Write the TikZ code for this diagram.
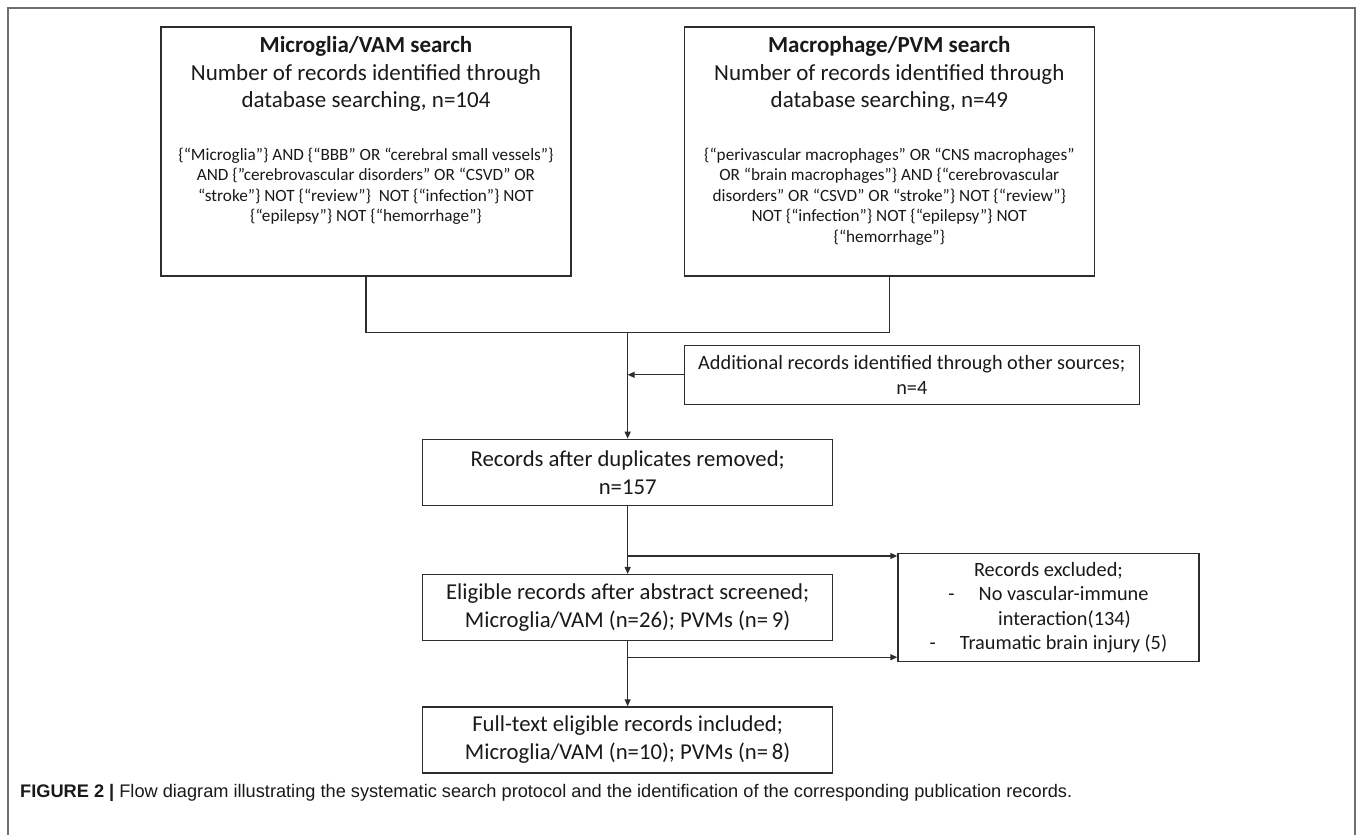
\documentclass[tikz,border=0pt]{standalone}
\usepackage{fontspec}
\setmainfont{Carlito}
\newfontfamily\captionfont{Liberation Sans}
\usepackage{tikz}
\usetikzlibrary{arrows, arrows.meta, positioning, calc}
\definecolor{boxline}{RGB}{45,45,45}
\definecolor{frameline}{RGB}{110,110,110}
\definecolor{inktext}{RGB}{25,25,25}
\tikzstyle{record} = [rectangle, draw=boxline, line width=1.3pt, minimum width=410pt, minimum height=66pt, inner sep=0pt, text=inktext, align=center, font=\fontsize{22.7}{28}\selectfont]
\tikzstyle{search} = [record, minimum height=249pt]
\tikzstyle{arrow} = [line width=1.2pt, draw=boxline, -{Triangle[length=7pt,width=6pt]}]
\tikzstyle{link} = [line width=1.2pt, draw=boxline]

\begin{document}
\begin{tikzpicture}[x=1pt, y=-1pt]
    \useasboundingbox (0,0) rectangle (1357,835);
    % Figure frame
    \draw [frameline, line width=1.5pt] (8,835) -- (8,8) -- (1355,8) -- (1355,835);

    % Search boxes
    \node (micro) [search] at (366,151.5) {};
    \node (microtitle) [below=10pt of micro.north, anchor=north, inner sep=0pt, align=center, text=inktext, font=\fontsize{23}{27.5}\selectfont] {\textbf{Microglia/VAM search}\\Number of records identified through\\database searching, n=104};
    \node (microquery) [below=36pt of microtitle, inner sep=0pt, align=center, text=inktext, font=\fontsize{17.2}{20.5}\selectfont] {\{“Microglia”\} AND \{“BBB” OR “cerebral small vessels”\}\\AND \{”cerebrovascular disorders” OR “CSVD” OR\\“stroke”\} NOT \{“review”\}\ \ NOT \{“infection”\} NOT\\\{“epilepsy”\} NOT \{“hemorrhage”\}};

    \node (macro) [search, right=112pt of micro] {};
    \node (macrotitle) [below=10pt of macro.north, anchor=north, inner sep=0pt, align=center, text=inktext, font=\fontsize{23}{27.5}\selectfont] {\textbf{Macrophage/PVM search}\\Number of records identified through\\database searching, n=49};
    \node (macroquery) [below=36pt of macrotitle, inner sep=0pt, align=center, text=inktext, font=\fontsize{17.2}{20.5}\selectfont] {\{“perivascular macrophages” OR “CNS macrophages”\\OR “brain macrophages”\} AND \{“cerebrovascular\\disorders” OR “CSVD” OR “stroke”\} NOT \{“review”\}\\NOT \{“infection”\} NOT \{“epilepsy”\} NOT\\\{“hemorrhage”\}};

    % Merge point
    \coordinate (join) at ($(micro.south)!0.5!(macro.south)+(0,56)$);

    % Flow boxes
    \node (extra) [record, below=68pt of macro, xshift=22.5pt, minimum width=455pt, minimum height=59pt, font=\fontsize{20.3}{25}\selectfont] {Additional records identified through other sources;\\n=4};
    \node (dupl) [record, below=106pt of join] {Records after duplicates removed;\\n=157};
    \node (elig) [record, below=68pt of dupl] {Eligible records after abstract screened;\\Microglia/VAM (n=26); PVMs (n=\,9)};
    \node (full) [record, below=65pt of elig] {Full-text eligible records included;\\Microglia/VAM (n=10); PVMs (n=\,8)};
    \node (excl) [record, right=64pt of elig, minimum width=301pt, minimum height=108pt, font=\fontsize{20.3}{24.5}\selectfont] {Records excluded;\\-\hspace{24pt}No vascular-immune\\\hspace*{32pt}interaction(134)\\-\hspace{24pt}Traumatic brain injury (5)};

    % Arrows
    \draw [link] (micro.south) |- (join) -| (macro.south);
    \draw [arrow] (join) -- (dupl);
    \draw [arrow] (extra.west) -- (extra.west -| join);
    \draw [arrow] (dupl) -- (elig);
    \draw [arrow] (elig) -- (full);
    \coordinate (cut1) at ($(dupl.south)+(0,50)$);
    \coordinate (cut2) at ($(elig.south)+(0,16)$);
    \draw [arrow] (cut1) -- (cut1 -| excl.west);
    \draw [arrow] (cut2) -- (cut2 -| excl.west);

    % Caption
    \node (caption) [anchor=base west, inner sep=0pt, text=inktext, font=\captionfont\fontsize{18.2}{22}\selectfont] at (20,797) {\textbf{FIGURE 2 |} Flow diagram illustrating the systematic search protocol and the identification of the corresponding publication records.};
\end{tikzpicture}
\end{document}
